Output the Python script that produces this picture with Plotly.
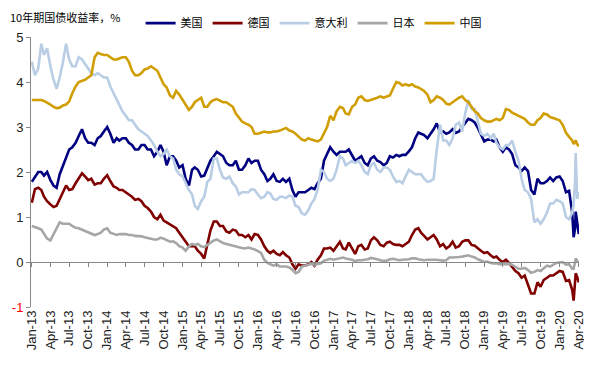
import datetime as dt
import plotly.graph_objects as go

# ---------------- data (semi-monthly readings, % yield) ----------------
semi_dates = []
for yr in range(2013, 2021):
    for mo in range(1, 13):
        if yr == 2020 and mo > 2:
            break
        semi_dates.append(dt.date(yr, mo, 1))
        semi_dates.append(dt.date(yr, mo, 16))
late_dates = [dt.date(2020, 3, 2), dt.date(2020, 3, 9), dt.date(2020, 3, 16),
              dt.date(2020, 3, 19), dt.date(2020, 3, 26), dt.date(2020, 4, 3)]
dates = semi_dates + late_dates

us = [
    1.78, 1.9, 2.0, 2.0, 1.92, 2.0, 1.82, 1.7, 1.65, 1.95, 2.15, 2.3, 2.5, 2.55, 2.65, 2.8, 2.95, 2.75, 2.65, 2.65, 2.6, 2.75, 2.8, 2.9,
    3.0, 2.85, 2.65, 2.75, 2.7, 2.75, 2.75, 2.65, 2.6, 2.5, 2.5, 2.6, 2.6, 2.5, 2.5, 2.35, 2.45, 2.6, 2.45, 2.15, 2.35, 2.35, 2.25, 2.1,
    2.15, 1.85, 1.7, 2.05, 2.1, 2.05, 1.9, 1.92, 2.1, 2.25, 2.35, 2.45, 2.4, 2.35, 2.2, 2.15, 2.15, 2.25, 2.05, 2.05, 2.15, 2.3, 2.2, 2.25,
    2.25, 2.05, 1.95, 1.8, 1.85, 1.95, 1.8, 1.78, 1.85, 1.78, 1.85, 1.6, 1.45, 1.55, 1.55, 1.55, 1.6, 1.65, 1.62, 1.75, 1.85, 2.25, 2.4, 2.55,
    2.45, 2.38, 2.45, 2.45, 2.45, 2.5, 2.38, 2.25, 2.3, 2.35, 2.2, 2.15, 2.3, 2.35, 2.25, 2.22, 2.15, 2.2, 2.35, 2.32, 2.38, 2.35, 2.38, 2.38,
    2.46, 2.55, 2.75, 2.88, 2.85, 2.82, 2.75, 2.85, 2.95, 3.08, 2.88, 2.9, 2.85, 2.88, 2.95, 2.87, 2.9, 3.0, 3.08, 3.18, 3.15, 3.1, 2.98, 2.85,
    2.68, 2.72, 2.72, 2.68, 2.72, 2.55, 2.45, 2.55, 2.5, 2.4, 2.15, 2.1, 2.02, 2.1, 2.02, 1.6, 1.5, 1.85, 1.75, 1.75, 1.8, 1.88, 1.8, 1.88,
    1.9, 1.8, 1.55, 1.58,
    1.1, 0.55, 0.75, 1.12, 0.82, 0.62,
]

germany = [
    1.32, 1.62, 1.65, 1.6, 1.45, 1.35, 1.28, 1.22, 1.25, 1.4, 1.55, 1.7, 1.6, 1.62, 1.75, 1.85, 1.97, 1.9, 1.82, 1.85, 1.72, 1.75, 1.75, 1.85,
    1.93, 1.8, 1.68, 1.65, 1.6, 1.6, 1.55, 1.5, 1.45, 1.38, 1.4, 1.35, 1.25, 1.2, 1.12, 1.0, 0.95, 1.05, 0.92, 0.88, 0.83, 0.8, 0.75, 0.65,
    0.55, 0.45, 0.35, 0.35, 0.35, 0.25, 0.18, 0.08, 0.4, 0.7, 0.9, 0.9, 0.8, 0.8, 0.68, 0.65, 0.72, 0.7, 0.6, 0.6, 0.55, 0.6, 0.5, 0.62,
    0.6, 0.5, 0.35, 0.25, 0.2, 0.25, 0.18, 0.15, 0.22, 0.15, 0.1, -0.05, -0.15, -0.05, -0.08, -0.08, -0.05, 0.0, -0.08, 0.05, 0.15, 0.3, 0.3, 0.32,
    0.25, 0.35, 0.45, 0.3, 0.28, 0.43, 0.3, 0.18, 0.35, 0.38, 0.28, 0.3, 0.48, 0.55, 0.48, 0.38, 0.35, 0.43, 0.45, 0.4, 0.38, 0.38, 0.35, 0.4,
    0.45, 0.6, 0.72, 0.75, 0.65, 0.58, 0.5, 0.55, 0.6, 0.5, 0.35, 0.4, 0.3, 0.35, 0.45, 0.32, 0.35, 0.45, 0.48, 0.48, 0.38, 0.36, 0.3, 0.25,
    0.2, 0.22, 0.15, 0.1, 0.12, 0.05, 0.0, 0.05, -0.02, -0.1, -0.2, -0.25, -0.35, -0.3, -0.5, -0.7, -0.7, -0.45, -0.55, -0.4, -0.35, -0.3, -0.3, -0.25,
    -0.2, -0.22, -0.42, -0.4,
    -0.62, -0.86, -0.45, -0.25, -0.33, -0.45,
]

italy = [
    4.45, 4.15, 4.3, 4.85, 4.6, 4.75, 4.35, 4.05, 3.85, 4.1, 4.45, 4.85, 4.5, 4.35, 4.35, 4.55, 4.5, 4.4, 4.3, 4.2, 4.15, 4.2, 4.15, 4.1,
    4.1, 3.9, 3.75, 3.6, 3.5, 3.35, 3.25, 3.15, 3.15, 3.05, 2.95, 2.9, 2.85, 2.8, 2.7, 2.6, 2.45, 2.35, 2.4, 2.5, 2.35, 2.3, 2.05, 1.95,
    1.9, 1.75, 1.6, 1.5, 1.25, 1.18, 1.35, 1.45, 1.78, 1.85, 2.3, 2.3, 2.05, 1.88, 1.85, 1.9, 1.75, 1.68, 1.5, 1.55, 1.55, 1.55, 1.62, 1.6,
    1.5, 1.42, 1.45, 1.55, 1.52, 1.4, 1.38, 1.45, 1.45, 1.42, 1.48, 1.45, 1.25, 1.22, 1.08, 1.05, 1.15, 1.3, 1.4, 1.6, 2.05, 2.0, 1.85, 1.8,
    1.85, 2.05, 2.35, 2.3, 2.15, 2.2, 2.25, 2.2, 2.25, 2.15, 2.0, 1.95, 2.15, 2.2, 2.05, 2.0, 2.1, 2.1, 2.05, 1.9, 1.78, 1.8, 1.75, 1.9,
    2.05, 2.0, 1.95, 1.95, 1.95, 1.85, 1.78, 1.8, 1.85, 2.5, 3.05, 2.7, 2.7, 2.6, 2.75, 3.05, 3.1, 2.9, 3.3, 3.6, 3.4, 3.4, 3.15, 2.85,
    2.8, 2.85, 2.75, 2.85, 2.65, 2.55, 2.5, 2.6, 2.6, 2.7, 2.45, 2.25, 1.85, 1.6, 1.55, 1.4, 0.88, 0.95, 0.85, 0.95, 1.1, 1.3, 1.3, 1.38,
    1.35, 1.3, 1.0, 0.95,
    1.1, 1.3, 1.8, 2.42, 1.4, 1.55,
]

japan = [
    0.8, 0.78, 0.75, 0.72, 0.62, 0.52, 0.48, 0.6, 0.75, 0.88, 0.85, 0.85, 0.85, 0.8, 0.76, 0.75, 0.72, 0.68, 0.65, 0.62, 0.6, 0.62, 0.65, 0.72,
    0.75, 0.65, 0.62, 0.6, 0.62, 0.62, 0.62, 0.6, 0.6, 0.58, 0.58, 0.57, 0.55, 0.53, 0.52, 0.5, 0.5, 0.54, 0.52, 0.48, 0.45, 0.46, 0.42, 0.35,
    0.32, 0.25, 0.35, 0.4, 0.38, 0.4, 0.35, 0.33, 0.38, 0.42, 0.48, 0.5, 0.45, 0.42, 0.4, 0.38, 0.37, 0.35, 0.33, 0.31, 0.3, 0.32, 0.3, 0.28,
    0.24, 0.2, 0.05, -0.02, -0.05, -0.08, -0.05, -0.1, -0.1, -0.1, -0.12, -0.17, -0.25, -0.22, -0.1, -0.08, -0.06, -0.04, -0.06, -0.05, -0.03, 0.03, 0.05, 0.07,
    0.05, 0.07, 0.09, 0.1, 0.08, 0.07, 0.05, 0.02, 0.04, 0.04, 0.05, 0.06, 0.09, 0.08, 0.06, 0.04, 0.02, 0.03, 0.06, 0.07, 0.05, 0.04, 0.05, 0.05,
    0.06, 0.08, 0.08, 0.06, 0.05, 0.04, 0.05, 0.05, 0.06, 0.05, 0.04, 0.03, 0.04, 0.1, 0.1, 0.1, 0.11, 0.12, 0.13, 0.15, 0.12, 0.1, 0.06, 0.03,
    0.0, 0.01, -0.02, -0.03, -0.03, -0.05, -0.05, -0.04, -0.05, -0.06, -0.1, -0.15, -0.15, -0.13, -0.18, -0.24, -0.22, -0.18, -0.2, -0.15, -0.08, -0.1, -0.05, -0.02,
    -0.01, 0.0, -0.06, -0.05,
    -0.15, -0.15, 0.0, 0.08, 0.02, 0.0,
]

china = [
    3.6, 3.6, 3.6, 3.6, 3.58, 3.55, 3.5, 3.45, 3.42, 3.43, 3.48, 3.5, 3.57, 3.75, 3.9, 4.0, 4.02, 4.05, 4.1, 4.15, 4.55, 4.65, 4.62, 4.6,
    4.6, 4.55, 4.5, 4.5, 4.52, 4.55, 4.55, 4.45, 4.25, 4.15, 4.15, 4.2, 4.28, 4.3, 4.35, 4.3, 4.25, 4.1, 3.95, 3.88, 3.7, 3.65, 3.8, 3.72,
    3.6, 3.5, 3.38, 3.45, 3.55, 3.6, 3.65, 3.45, 3.45, 3.55, 3.6, 3.62, 3.58, 3.55, 3.55, 3.5, 3.45, 3.3, 3.2, 3.12, 3.08, 3.05, 3.0, 2.85,
    2.85, 2.88, 2.9, 2.88, 2.88, 2.9, 2.9, 2.92, 2.95, 2.98, 2.92, 2.9, 2.85, 2.78, 2.72, 2.7, 2.75, 2.72, 2.7, 2.68, 2.72, 2.85, 3.0, 3.25,
    3.15, 3.35, 3.45, 3.42, 3.3, 3.28, 3.45, 3.5, 3.65, 3.68, 3.6, 3.58, 3.6, 3.62, 3.65, 3.68, 3.65, 3.68, 3.7, 3.85, 4.0, 3.98, 3.92, 3.95,
    3.92, 3.95, 3.9, 3.88, 3.85, 3.8, 3.72, 3.55, 3.6, 3.68, 3.65, 3.6, 3.52, 3.5, 3.55, 3.6, 3.65, 3.68, 3.6, 3.55, 3.45, 3.35, 3.3, 3.2,
    3.15, 3.12, 3.12, 3.15, 3.18, 3.15, 3.2, 3.4, 3.38, 3.32, 3.28, 3.25, 3.2, 3.18, 3.1, 3.05, 3.05, 3.15, 3.2, 3.3, 3.28, 3.22, 3.2, 3.18,
    3.15, 3.05, 2.87, 2.78,
    2.7, 2.62, 2.7, 2.7, 2.62, 2.57,
]

series_names = ["美国", "德国", "意大利", "日本", "中国"]
series_values = [us, germany, italy, japan, china]
series_colors = ["#000080", "#800000", "#B9CDE5", "#A6A6A6", "#D09E00"]

# quarterly tick labels
tick_dates = []
tick_labels = []
for yr in range(2013, 2021):
    for mo, nm in ((1, "Jan"), (4, "Apr"), (7, "Jul"), (10, "Oct")):
        if yr == 2020 and mo > 4:
            break
        tick_dates.append(dt.date(yr, mo, 1))
        tick_labels.append(f"{nm}-{str(yr)[2:]}")

y_ticks = [-1, 0, 1, 2, 3, 4, 5]
y_labels = ['<span style="color:#FF0000">-1</span>', "0", "1", "2", "3", "4", "5"]

title_text = "10年期国债收益率，%"

# ---------------- figure ----------------
# the page body has an 8px margin, so the figure is 8px smaller than the window
FIG_W, FIG_H = 584, 370

fig = go.Figure()
for name, vals, col in zip(series_names, series_values, series_colors):
    fig.add_trace(go.Scatter(x=dates, y=vals, name=name, mode="lines",
                             line=dict(color=col, width=2.6)))

# helper trace to carry the zero-line axis with tick marks
fig.add_trace(go.Scatter(x=[dates[0]], y=[0], xaxis="x2", mode="markers",
                         marker=dict(opacity=0), showlegend=False, hoverinfo="skip"))

x_range = ["2012-12-28", "2020-04-04"]
axis_col = "#888888"
tick_font = dict(family="Arial, Liberation Sans, sans-serif", size=13, color="#222222")
cjk_font = dict(family="Noto Sans CJK SC", size=11, color="#000000")

fig.update_layout(
    width=FIG_W, height=FIG_H,
    margin=dict(l=23, r=13, t=29, b=71, autoexpand=False),
    paper_bgcolor="white", plot_bgcolor="white",
    title=dict(text=title_text, x=2 / FIG_W, xref="container", xanchor="left",
               y=1 - 10 / FIG_H, yref="container", yanchor="middle", font=cjk_font,
               pad=dict(t=0, b=0, l=0, r=0)),
    legend=dict(orientation="h", x=0.2, xanchor="left", y=1.105, yanchor="top",
                font=cjk_font, itemwidth=30, tracegroupgap=0,
                bgcolor="rgba(0,0,0,0)"),
    showlegend=True,
    xaxis=dict(type="date", range=x_range, tickmode="array", tickvals=tick_dates,
               ticktext=tick_labels, tickangle=-90, showline=False, ticks="",
               showgrid=False, zeroline=False, tickfont=tick_font, automargin=False),
    xaxis2=dict(type="date", range=x_range, overlaying="x", anchor="free",
                position=1 / 6, tickmode="array", tickvals=tick_dates,
                showticklabels=False, showline=True, linecolor=axis_col, linewidth=1,
                ticks="outside", ticklen=4, tickcolor=axis_col, showgrid=False,
                zeroline=False, automargin=False),
    yaxis=dict(range=[-1, 5], tickmode="array", tickvals=y_ticks, ticktext=y_labels,
               showline=True, linecolor=axis_col, linewidth=1, ticks="outside",
               ticklen=4, tickcolor=axis_col, showgrid=False, zeroline=False,
               tickfont=tick_font, automargin=False),
)

fig.write_html("out.html")
